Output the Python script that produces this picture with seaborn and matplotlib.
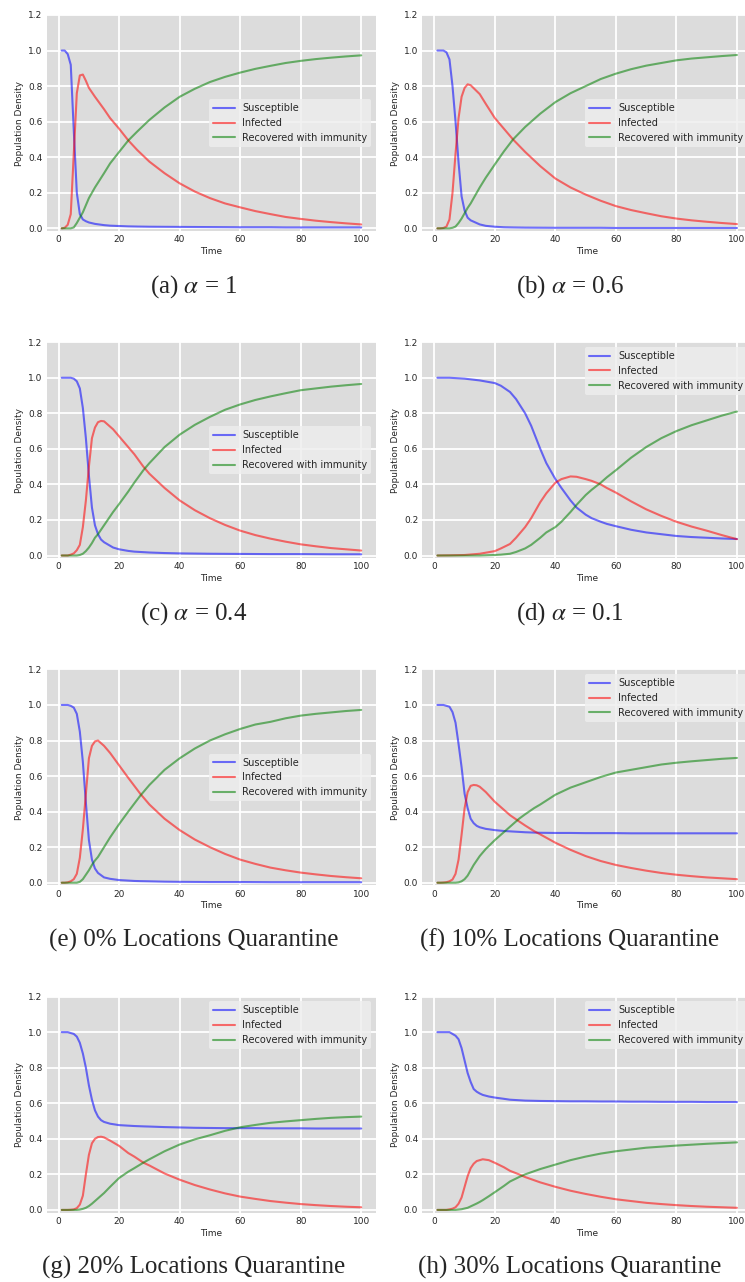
import numpy as np
import pandas as pd
import matplotlib
matplotlib.use("Agg")
import matplotlib.pyplot as plt
import seaborn as sns

# ── values (time, susceptible, infected, recovered) ──
t_a = [1, 2, 3, 4, 5, 6, 7, 8, 9, 10, 12, 15, 17, 20, 23, 26, 30, 35, 40, 45, 50, 55, 60, 65,
       70, 75, 80, 85, 90, 95, 100]
s_a = [1.0, 1.0, 0.98, 0.92, 0.55, 0.2, 0.08, 0.05, 0.04, 0.033, 0.025, 0.018, 0.015, 0.013,
       0.011, 0.01, 0.009, 0.0085, 0.008, 0.0075, 0.007, 0.0065, 0.006, 0.006, 0.006, 0.005,
       0.005, 0.005, 0.005, 0.005, 0.005]
i_a = [0.0, 0.003, 0.02, 0.08, 0.42, 0.76, 0.86, 0.865, 0.83, 0.79, 0.74, 0.67, 0.62, 0.56,
       0.495, 0.44, 0.375, 0.31, 0.253, 0.207, 0.17, 0.14, 0.118, 0.097, 0.08, 0.064, 0.053,
       0.043, 0.035, 0.028, 0.022]
r_a = [0.0, 0.0, 0.0, 0.0, 0.005, 0.03, 0.06, 0.09, 0.13, 0.17, 0.23, 0.31, 0.365, 0.43,
       0.494, 0.545, 0.61, 0.68, 0.74, 0.785, 0.823, 0.852, 0.876, 0.897, 0.914, 0.93, 0.942,
       0.952, 0.96, 0.967, 0.973]

t_b = [1, 2, 3, 4, 5, 6, 7, 8, 9, 10, 11, 12, 15, 17, 20, 23, 26, 30, 35, 40, 45, 50, 55, 60,
       65, 70, 75, 80, 85, 90, 95, 100]
s_b = [1.0, 1.0, 1.0, 0.99, 0.95, 0.8, 0.6, 0.37, 0.18, 0.1, 0.06, 0.045, 0.022, 0.014, 0.009,
       0.006, 0.005, 0.004, 0.0035, 0.003, 0.003, 0.003, 0.003, 0.002, 0.002, 0.002, 0.002,
       0.002, 0.002, 0.002, 0.002, 0.002]
i_b = [0.0, 0.0, 0.002, 0.01, 0.05, 0.2, 0.42, 0.62, 0.74, 0.79, 0.81, 0.805, 0.755, 0.7, 0.62,
       0.56, 0.5, 0.43, 0.35, 0.28, 0.23, 0.19, 0.155, 0.125, 0.103, 0.085, 0.068, 0.055, 0.045,
       0.037, 0.03, 0.024]
r_b = [0.0, 0.0, 0.0, 0.0, 0.0, 0.003, 0.01, 0.03, 0.055, 0.085, 0.115, 0.14, 0.23, 0.285, 0.36,
       0.433, 0.5, 0.57, 0.645, 0.71, 0.76, 0.8, 0.84, 0.87, 0.895, 0.915, 0.93, 0.945, 0.955,
       0.962, 0.969, 0.975]

t_c = [1, 2, 3, 4, 5, 6, 7, 8, 9, 10, 11, 12, 13, 14, 15, 18, 20, 23, 25, 28, 30, 35, 40, 45,
       50, 55, 60, 65, 70, 75, 80, 85, 90, 95, 100]
s_c = [1.0, 1.0, 1.0, 1.0, 0.995, 0.98, 0.94, 0.83, 0.66, 0.45, 0.27, 0.17, 0.12, 0.09, 0.075,
       0.045, 0.035, 0.026, 0.022, 0.019, 0.017, 0.014, 0.012, 0.011, 0.01, 0.0095, 0.009,
       0.0085, 0.008, 0.008, 0.008, 0.0075, 0.007, 0.007, 0.007]
i_c = [0.0, 0.0, 0.0, 0.005, 0.012, 0.03, 0.06, 0.16, 0.31, 0.5, 0.66, 0.72, 0.75, 0.757, 0.755,
       0.71, 0.67, 0.61, 0.57, 0.5, 0.46, 0.38, 0.31, 0.255, 0.21, 0.172, 0.14, 0.115, 0.095,
       0.078, 0.063, 0.052, 0.042, 0.035, 0.028]
r_c = [0.0, 0.0, 0.0, 0.0, 0.0, 0.0, 0.003, 0.01, 0.025, 0.045, 0.07, 0.1, 0.12, 0.145, 0.17,
       0.245, 0.29, 0.36, 0.41, 0.48, 0.52, 0.61, 0.68, 0.735, 0.78, 0.82, 0.85, 0.875, 0.895,
       0.913, 0.93, 0.94, 0.95, 0.958, 0.965]

t_d = [1, 5, 10, 15, 20, 22, 25, 27, 30, 32, 35, 37, 40, 42, 45, 47, 50, 52, 55, 57, 60, 65,
       70, 75, 80, 85, 90, 95, 100]
s_d = [1.0, 1.0, 0.995, 0.985, 0.97, 0.955, 0.92, 0.88, 0.8, 0.73, 0.6, 0.52, 0.43, 0.38, 0.31,
       0.27, 0.23, 0.21, 0.19, 0.178, 0.165, 0.145, 0.13, 0.12, 0.11, 0.104, 0.1, 0.096, 0.093]
i_d = [0.0, 0.001, 0.003, 0.01, 0.025, 0.04, 0.065, 0.1, 0.16, 0.21, 0.3, 0.35, 0.41, 0.43,
       0.445, 0.443, 0.43, 0.42, 0.4, 0.38, 0.354, 0.305, 0.26, 0.223, 0.19, 0.163, 0.14,
       0.115, 0.092]
r_d = [0.0, 0.0, 0.0, 0.0, 0.003, 0.005, 0.01, 0.02, 0.04, 0.06, 0.1, 0.13, 0.16, 0.19, 0.245,
       0.285, 0.34, 0.37, 0.41, 0.44, 0.48, 0.55, 0.61, 0.66, 0.7, 0.733, 0.76, 0.787, 0.81]

t_e = [1, 2, 3, 4, 5, 6, 7, 8, 9, 10, 11, 12, 13, 15, 17, 20, 23, 25, 27, 30, 35, 40, 45, 50,
       55, 60, 65, 70, 75, 80, 85, 90, 95, 100]
s_e = [1.0, 1.0, 1.0, 0.995, 0.985, 0.95, 0.85, 0.68, 0.45, 0.24, 0.13, 0.08, 0.055, 0.03,
       0.022, 0.015, 0.012, 0.01, 0.009, 0.008, 0.006, 0.005, 0.0045, 0.004, 0.004, 0.004,
       0.0035, 0.003, 0.003, 0.003, 0.003, 0.003, 0.003, 0.003]
i_e = [0.0, 0.0, 0.002, 0.008, 0.02, 0.05, 0.14, 0.3, 0.5, 0.7, 0.77, 0.795, 0.8, 0.77, 0.73,
       0.66, 0.59, 0.545, 0.5, 0.44, 0.36, 0.296, 0.243, 0.2, 0.162, 0.13, 0.106, 0.085, 0.07,
       0.057, 0.047, 0.038, 0.031, 0.025]
r_e = [0.0, 0.0, 0.0, 0.0, 0.0, 0.0, 0.005, 0.02, 0.045, 0.07, 0.1, 0.125, 0.145, 0.2, 0.255,
       0.33, 0.4, 0.445, 0.49, 0.55, 0.635, 0.7, 0.755, 0.8, 0.835, 0.865, 0.89, 0.905, 0.925,
       0.94, 0.95, 0.958, 0.966, 0.972]

t_f = [1, 2, 3, 4, 5, 6, 7, 8, 9, 10, 11, 12, 13, 14, 15, 17, 20, 23, 25, 28, 30, 33, 35, 40,
       45, 50, 55, 60, 65, 70, 75, 80, 85, 90, 95, 100]
s_f = [1.0, 1.0, 1.0, 0.995, 0.99, 0.96, 0.9, 0.78, 0.65, 0.5, 0.42, 0.36, 0.335, 0.32, 0.312,
       0.303, 0.296, 0.291, 0.289, 0.286, 0.284, 0.282, 0.281, 0.28, 0.28, 0.279, 0.279, 0.279,
       0.278, 0.278, 0.278, 0.278, 0.278, 0.278, 0.278, 0.278]
i_f = [0.0, 0.0, 0.001, 0.003, 0.008, 0.018, 0.05, 0.13, 0.27, 0.42, 0.51, 0.545, 0.55, 0.548,
       0.54, 0.51, 0.455, 0.41, 0.38, 0.345, 0.322, 0.29, 0.272, 0.225, 0.185, 0.15, 0.122, 0.1,
       0.083, 0.068, 0.055, 0.045, 0.037, 0.03, 0.025, 0.02]
r_f = [0.0, 0.0, 0.0, 0.0, 0.0, 0.0, 0.0, 0.002, 0.008, 0.02, 0.04, 0.07, 0.1, 0.125, 0.15,
       0.19, 0.24, 0.285, 0.315, 0.36, 0.385, 0.42, 0.44, 0.495, 0.535, 0.565, 0.595, 0.62,
       0.635, 0.65, 0.665, 0.675, 0.683, 0.69, 0.697, 0.702]

t_g = [1, 2, 3, 4, 5, 6, 7, 8, 9, 10, 11, 12, 13, 14, 15, 17, 20, 23, 25, 28, 30, 35, 40, 45,
       50, 55, 60, 65, 70, 75, 80, 85, 90, 95, 100]
s_g = [1.0, 1.0, 1.0, 0.995, 0.99, 0.975, 0.94, 0.88, 0.8, 0.7, 0.62, 0.56, 0.525, 0.505, 0.495,
       0.485, 0.477, 0.474, 0.472, 0.47, 0.469, 0.466, 0.464, 0.462, 0.461, 0.46, 0.46, 0.46,
       0.459, 0.459, 0.459, 0.458, 0.458, 0.458, 0.458]
i_g = [0.0, 0.0, 0.0, 0.001, 0.003, 0.01, 0.03, 0.08, 0.2, 0.31, 0.375, 0.4, 0.41, 0.412, 0.408,
       0.39, 0.36, 0.32, 0.3, 0.266, 0.25, 0.205, 0.17, 0.14, 0.115, 0.093, 0.075, 0.062, 0.05,
       0.041, 0.033, 0.027, 0.022, 0.018, 0.015]
r_g = [0.0, 0.0, 0.0, 0.0, 0.0, 0.0, 0.002, 0.006, 0.012, 0.022, 0.035, 0.05, 0.065, 0.08, 0.095,
       0.13, 0.18, 0.215, 0.235, 0.266, 0.285, 0.33, 0.368, 0.397, 0.42, 0.445, 0.465, 0.478,
       0.49, 0.498, 0.505, 0.512, 0.518, 0.522, 0.525]

t_h = [1, 2, 3, 4, 5, 6, 7, 8, 9, 10, 11, 12, 13, 14, 15, 16, 18, 20, 23, 25, 28, 30, 35, 40,
       45, 50, 55, 60, 65, 70, 75, 80, 85, 90, 95, 100]
s_h = [1.0, 1.0, 1.0, 1.0, 1.0, 0.99, 0.98, 0.96, 0.91, 0.84, 0.77, 0.72, 0.68, 0.665, 0.655,
       0.647, 0.638, 0.632, 0.625, 0.62, 0.617, 0.615, 0.613, 0.612, 0.611, 0.611, 0.61, 0.61,
       0.609, 0.609, 0.608, 0.608, 0.608, 0.607, 0.607, 0.607]
i_h = [0.0, 0.0, 0.0, 0.0, 0.003, 0.007, 0.015, 0.035, 0.07, 0.13, 0.19, 0.235, 0.26, 0.275, 0.28,
       0.285, 0.28, 0.265, 0.24, 0.22, 0.2, 0.185, 0.155, 0.13, 0.108, 0.09, 0.074, 0.06, 0.05,
       0.04, 0.033, 0.027, 0.022, 0.018, 0.015, 0.012]
r_h = [0.0, 0.0, 0.0, 0.0, 0.0, 0.0, 0.0, 0.002, 0.004, 0.008, 0.012, 0.02, 0.028, 0.036, 0.045,
       0.055, 0.077, 0.1, 0.135, 0.16, 0.185, 0.2, 0.23, 0.255, 0.28, 0.3, 0.317, 0.33, 0.34,
       0.35, 0.356, 0.362, 0.367, 0.372, 0.376, 0.38]

captions = [r"(a) $\alpha$ = 1", r"(b) $\alpha$ = 0.6", r"(c) $\alpha$ = 0.4", r"(d) $\alpha$ = 0.1",
            "(e) 0% Locations Quarantine", "(f) 10% Locations Quarantine",
            "(g) 20% Locations Quarantine", "(h) 30% Locations Quarantine"]
legend_loc = ["center right", "center right", "center right", "upper right",
              "center right", "upper right", "upper right", "upper right"]
series_names = ["Susceptible", "Infected", "Recovered with immunity"]
series_colors = ["blue", "red", "green"]

panels = [(t_a, s_a, i_a, r_a), (t_b, s_b, i_b, r_b), (t_c, s_c, i_c, r_c), (t_d, s_d, i_d, r_d),
          (t_e, s_e, i_e, r_e), (t_f, s_f, i_f, r_f), (t_g, s_g, i_g, r_g), (t_h, s_h, i_h, r_h)]

# ── style ─────────────────────────────────────────────────
sns.set_style("darkgrid", {"axes.facecolor": "#dcdcdc", "grid.color": "white"})
plt.rcParams["font.family"] = ["DejaVu Sans"]
plt.rcParams["mathtext.fontset"] = "stix"

W, H = 745, 1282
fig = plt.figure(figsize=(W / 100, H / 100), dpi=100)

col_left = [46.7, 422.4]
ax_w, ax_h = 329.5, 216.0
cap_x = [194, 570]

for k, (tt, ss, ii, rr) in enumerate(panels):
    row, col = divmod(k, 2)
    bottom_px = 231 + 327.2 * row
    ax = fig.add_axes([col_left[col] / W, 1 - bottom_px / H, ax_w / W, ax_h / H])

    df = pd.DataFrame({"Time": tt, "S": ss, "I": ii, "R": rr})
    for key, name, c in zip(["S", "I", "R"], series_names, series_colors):
        sns.lineplot(data=df, x="Time", y=key, ax=ax, color=c, alpha=0.55, lw=1.5,
                     label=name, estimator=None, sort=False)

    ax.set_xlim(-3.95, 104.95)
    ax.set_ylim(-0.015, 1.2)
    ax.set_xticks([0, 20, 40, 60, 80, 100])
    ax.set_yticks([0.0, 0.2, 0.4, 0.6, 0.8, 1.0, 1.2])
    ax.set_yticklabels([f"{v:.1f}" for v in [0.0, 0.2, 0.4, 0.6, 0.8, 1.0, 1.2]])
    ax.tick_params(labelsize=6.5, length=0, pad=3, colors="#262626")
    ax.grid(color="white", lw=1.3)
    ax.set_xlabel("Time", fontsize=6.5, labelpad=2)
    ax.set_ylabel("Population Density", fontsize=6.5, labelpad=3)
    for sp in ax.spines.values():
        sp.set_visible(False)
    ax.legend(loc=legend_loc[k], fontsize=7, frameon=True, facecolor="#eeeeee",
              edgecolor="none", framealpha=0.8, borderaxespad=0.5, handlelength=2.2)

    fig.text(cap_x[col] / W, 1 - (287 + 326.7 * row) / H, captions[k],
             ha="center", va="center", fontsize=18, family="Liberation Serif")

fig.savefig("out.png", dpi=100)
